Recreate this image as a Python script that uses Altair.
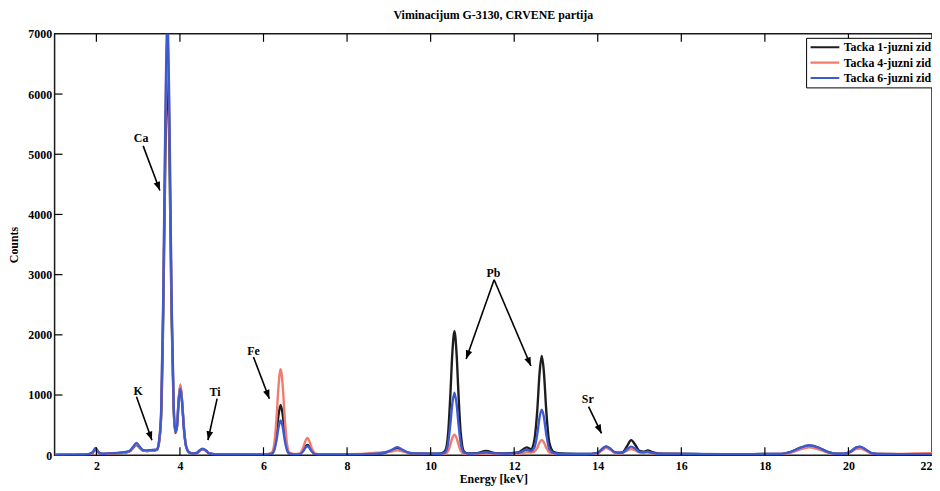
import math
import altair as alt
import pandas as pd

# ---------------- data ----------------
energy = [1.0, 1.2, 1.4, 1.6, 1.8, 1.9, 1.98, 2.06, 2.15, 2.3, 2.5, 2.7, 2.8, 2.88, 2.96, 3.04, 3.12, 3.2, 3.3, 3.4,
          3.45, 3.5, 3.55, 3.6, 3.65, 3.7, 3.75, 3.8, 3.85, 3.89, 3.93, 3.97, 4.01, 4.05, 4.1, 4.15, 4.22, 4.3, 4.4, 4.48,
          4.55, 4.62, 4.7, 4.85, 5.2, 5.6, 6.0, 6.1, 6.2, 6.26, 6.31, 6.36, 6.41, 6.46, 6.51, 6.56, 6.62, 6.72, 6.85, 6.95,
          7.0, 7.05, 7.1, 7.15, 7.25, 7.4, 7.8, 8.3, 8.7, 8.9, 9.05, 9.2, 9.35, 9.5, 9.8, 10.1, 10.25, 10.35, 10.42, 10.47,
          10.52, 10.57, 10.62, 10.67, 10.72, 10.8, 10.9, 11.1, 11.33, 11.55, 11.8, 12.1, 12.3, 12.4, 12.48, 12.55, 12.61, 12.66, 12.71, 12.77,
          12.84, 12.95, 13.05, 13.3, 13.7, 14.0, 14.1, 14.2, 14.3, 14.4, 14.5, 14.6, 14.7, 14.8, 14.9, 15.0, 15.1, 15.2, 15.3, 15.45,
          15.8, 16.3, 17.0, 17.7, 18.4, 18.6, 18.8, 19.07, 19.3, 19.5, 19.7, 19.9, 20.05, 20.18, 20.28, 20.4, 20.55, 20.7, 21.2, 21.6,
          22.0]

tacka1 = [5, 8, 10, 10, 15, 35, 90, 40, 22, 25, 35, 45, 65, 120, 170, 120, 75, 70, 75, 80,
          90, 210, 640, 2300, 4900, 6350, 4900, 2300, 760, 370, 480, 920, 1150, 900, 410, 140, 45, 30, 35, 80,
          100, 75, 30, 15, 12, 12, 14, 15, 30, 125, 350, 670, 835, 670, 350, 125, 30, 15, 15, 75,
          140, 170, 140, 75, 15, 12, 12, 15, 25, 40, 70, 120, 70, 35, 25, 25, 30, 75, 370, 970,
          1700, 2060, 1700, 970, 370, 60, 30, 35, 70, 35, 30, 45, 130, 100, 240, 720, 1390, 1650, 1390, 720,
          210, 50, 35, 25, 20, 40, 100, 140, 105, 50, 40, 50, 150, 250, 170, 70, 60, 80, 50, 30,
          25, 20, 18, 18, 22, 50, 110, 160, 120, 55, 25, 25, 60, 125, 138, 100, 35, 20, 18, 18,
          18]

tacka4 = [5, 8, 10, 12, 15, 35, 100, 40, 22, 25, 35, 45, 65, 125, 180, 125, 75, 70, 75, 80,
          95, 225, 690, 2500, 5350, 6900, 5350, 2500, 820, 380, 490, 940, 1180, 920, 420, 145, 50, 30, 35, 80,
          100, 75, 30, 15, 12, 14, 18, 20, 45, 205, 600, 1150, 1430, 1150, 600, 205, 45, 20, 25, 125,
          230, 285, 230, 125, 25, 15, 15, 20, 40, 50, 60, 80, 60, 40, 25, 20, 15, 25, 70, 170,
          285, 340, 285, 170, 70, 22, 15, 20, 30, 20, 15, 25, 50, 45, 60, 120, 215, 253, 215, 120,
          45, 22, 15, 12, 12, 30, 80, 120, 90, 40, 30, 40, 75, 104, 80, 45, 40, 45, 30, 20,
          20, 18, 15, 15, 20, 40, 85, 130, 95, 45, 22, 22, 50, 100, 110, 80, 30, 20, 20, 30,
          35]

tacka6 = [5, 8, 10, 12, 18, 40, 120, 45, 25, 30, 40, 55, 75, 140, 205, 140, 85, 80, 85, 90,
          100, 240, 730, 2600, 5580, 7200, 5580, 2600, 850, 390, 480, 900, 1110, 880, 400, 140, 50, 30, 38, 85,
          110, 80, 30, 15, 12, 12, 14, 15, 25, 90, 245, 465, 577, 465, 245, 90, 25, 15, 15, 68,
          122, 150, 122, 68, 15, 12, 12, 15, 25, 45, 80, 135, 80, 40, 28, 25, 25, 50, 200, 500,
          860, 1040, 860, 500, 200, 45, 25, 30, 50, 30, 25, 40, 90, 70, 120, 340, 640, 758, 640, 340,
          100, 35, 25, 20, 20, 40, 100, 145, 110, 50, 40, 45, 100, 143, 110, 55, 50, 60, 40, 25,
          22, 20, 18, 18, 22, 50, 110, 165, 120, 55, 25, 25, 60, 125, 140, 100, 35, 20, 18, 18,
          18]

series_names = ["Tacka 1-juzni zid", "Tacka 4-juzni zid", "Tacka 6-juzni zid"]
series_colors = ["#1e1e1e", "#f27c6b", "#3c5ad2"]

x_tick_values = [2, 4, 6, 8, 10, 12, 14, 16, 18, 20, 22]
y_tick_values = [0, 1000, 2000, 3000, 4000, 5000, 6000, 7000]

ann_text = ["Ca", "K", "Ti", "Fe", "Pb", "Sr"]
ann_x = [3.07, 3.00, 4.84, 5.76, 11.50, 13.76]
ann_y = [5276, 1071, 1054, 1730, 3031, 939]

arrow_x1 = [3.12, 2.96, 4.89, 5.76, 11.52, 11.52, 13.78]
arrow_y1 = [5139, 972, 939, 1631, 2915, 2915, 807]
arrow_x2 = [3.52, 3.33, 4.67, 6.14, 10.85, 12.40, 14.09]
arrow_y2 = [4398, 247, 252, 939, 1598, 1482, 362]

# ---------------- layout ----------------
W, H = 885, 425
X_DOM = [1, 22]
Y_DOM = [0, 7000]
FONT = "Liberation Serif"

rows = []
for name, vals in zip(series_names, [tacka1, tacka4, tacka6]):
    for e, c in zip(energy, vals):
        rows.append({"energy": e, "counts": c, "series": name})
spec_df = pd.DataFrame(rows)

xs = alt.Scale(domain=X_DOM, nice=False, zero=False)
ys = alt.Scale(domain=Y_DOM, nice=False, zero=False)

lines = alt.Chart(spec_df).mark_line(clip=True, strokeWidth=2.4, interpolate="monotone").encode(
    x=alt.X("energy:Q", scale=xs, title="Energy [keV]",
            axis=alt.Axis(values=x_tick_values, format="d", ticks=False, tickSize=0, domain=False,
                          grid=False, labelPadding=5, titlePadding=3, labelFlush=True)),
    y=alt.Y("counts:Q", scale=ys, title="Counts",
            axis=alt.Axis(values=y_tick_values, format="d", ticks=False, tickSize=0, domain=False,
                          grid=False, labelPadding=3, titlePadding=7)),
    color=alt.Color("series:N", scale=alt.Scale(domain=series_names, range=series_colors),
                    legend=alt.Legend(title=None, orient="none", legendX=758, legendY=4,
                                      symbolType="stroke", symbolSize=841, symbolStrokeWidth=2.2,
                                      clipHeight=13, rowPadding=2.5, labelOffset=3,
                                      labelFont=FONT, labelFontSize=12, labelFontWeight="bold",
                                      labelColor="black", strokeColor="black", fillColor="white",
                                      padding=3)),
)

xt_df = pd.DataFrame({"energy": [v for v in x_tick_values if v < 22]})
yt_df = pd.DataFrame({"counts": [v for v in y_tick_values if 0 < v < 7000]})

ticks_bottom = alt.Chart(xt_df).mark_rule(color="black", strokeWidth=1.2).encode(
    x=alt.X("energy:Q", scale=xs), y=alt.value(H), y2=alt.value(H - 8))
ticks_top = alt.Chart(xt_df).mark_rule(color="black", strokeWidth=1.2).encode(
    x=alt.X("energy:Q", scale=xs), y=alt.value(0), y2=alt.value(8))
ticks_left = alt.Chart(yt_df).mark_rule(color="black", strokeWidth=1.2).encode(
    y=alt.Y("counts:Q", scale=ys), x=alt.value(0), x2=alt.value(8))

# arrows
px_x = W / (X_DOM[1] - X_DOM[0])
px_y = H / (Y_DOM[1] - Y_DOM[0])
angles = []
for a, b, c, d in zip(arrow_x1, arrow_y1, arrow_x2, arrow_y2):
    dx = (c - a) * px_x
    dy = -(d - b) * px_y
    angles.append(math.degrees(math.atan2(dx, -dy)) % 360)
arr_df = pd.DataFrame({"energy": arrow_x1, "counts": arrow_y1, "energy2": arrow_x2,
                       "counts2": arrow_y2, "angle": angles})

shafts = alt.Chart(arr_df).mark_rule(color="black", strokeWidth=1.6).encode(
    x=alt.X("energy:Q", scale=xs), y=alt.Y("counts:Q", scale=ys),
    x2="energy2:Q", y2="counts2:Q")
heads = alt.Chart(arr_df).mark_point(shape="M0,0L-0.42,1.1L0.42,1.1Z", filled=True, opacity=1,
                                     color="black", size=256).encode(
    x=alt.X("energy2:Q", scale=xs), y=alt.Y("counts2:Q", scale=ys),
    angle=alt.Angle("angle:Q", scale=None))

lab_df = pd.DataFrame({"energy": ann_x, "counts": ann_y, "text": ann_text})
labels = alt.Chart(lab_df).mark_text(font=FONT, fontSize=12, fontWeight="bold", color="black",
                                     align="center", baseline="middle").encode(
    x=alt.X("energy:Q", scale=xs), y=alt.Y("counts:Q", scale=ys), text="text:N")

chart = alt.layer(lines, ticks_bottom, ticks_top, ticks_left, shafts, heads, labels).properties(
    width=W, height=H,
    background="white",
    title=alt.TitleParams("Viminacijum G-3130, CRVENE partija", anchor="middle", frame="group",
                          font=FONT, fontSize=12, fontWeight="bold", color="black", offset=6),
    autosize=alt.AutoSizeParams(type="none"),
    padding={"left": 47, "top": 24, "right": 0, "bottom": 34},
).configure_view(stroke="#1a1a1a", strokeWidth=1.5).configure_axis(
    labelFont=FONT, labelFontSize=12, labelFontWeight="bold", labelColor="black",
    titleFont=FONT, titleFontSize=12, titleFontWeight="bold", titleColor="black",
)

chart.save("out.html", embed_options={"renderer": "svg", "actions": False})
